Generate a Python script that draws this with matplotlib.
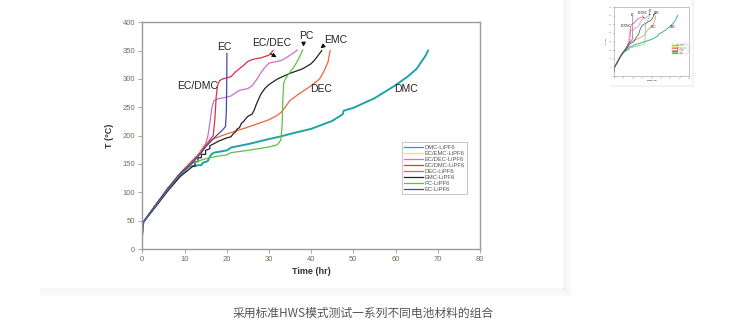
import matplotlib
matplotlib.use("Agg")
import matplotlib.pyplot as plt
from matplotlib.patches import Rectangle
from matplotlib.lines import Line2D

plt.rcParams['font.family'] = ['Liberation Sans', 'DejaVu Sans']

# 各电解液的温度-时间曲线 (HWS)
dmc_t = [0, 0.1, 0.3, 3, 6, 9, 11, 12.5, 13.5, 14, 14.3, 15.5, 16, 16.5, 17, 20, 20.5, 21, 25, 30, 33, 35, 40, 45, 47.5, 47.7, 50, 55, 60, 63, 65, 67, 67.7]
dmc_T = [25, 40, 48, 75, 105, 130, 145, 147, 148, 148, 152, 155, 163, 168, 170, 174, 176, 179, 185, 194, 199, 203, 212, 226, 238, 244, 249, 266, 289, 305, 318, 340, 350]

ecdec_t = [0, 0.1, 0.3, 3, 6, 9, 12, 14, 15, 15.5, 16, 16.5, 17, 18, 20, 21, 22, 23, 25, 26, 27, 28, 29, 30, 32, 33, 34, 35, 36, 36.7]
ecdec_T = [25, 40, 48, 76, 107, 134, 155, 172, 185, 198, 222, 250, 262, 265, 268, 270, 275, 280, 283, 288, 298, 310, 320, 328, 331, 333, 337, 342, 347, 351]

ecdmc_t = [0, 0.1, 0.3, 3, 6, 9, 12, 14, 15, 16, 16.8, 17.2, 17.5, 17.8, 18.3, 19, 20, 21, 22, 23, 24, 25, 26, 27, 28, 30, 31]
ecdmc_T = [25, 40, 48, 76, 107, 134, 157, 172, 182, 193, 200, 230, 268, 288, 297, 300, 302, 304, 312, 318, 324, 331, 334, 336, 337, 342, 350]

dec_t = [0, 0.1, 0.3, 3, 6, 9, 12, 14, 15, 16, 17, 20, 25, 30, 32, 33, 34, 35, 37, 40, 42, 43, 44, 44.5]
dec_T = [25, 40, 48, 75, 105, 132, 152, 175, 185, 190, 195, 203, 215, 228, 236, 242, 252, 262, 273, 288, 300, 313, 330, 350]

emc_t = [0, 0.1, 0.3, 3, 6, 9, 12, 12.5, 12.5, 13.2, 13.2, 14, 14, 15, 15, 16, 16, 17, 18, 19, 20, 21, 21.5, 22, 22.5, 23, 23.5, 24, 24.5, 25, 26, 26.5, 27, 28, 29, 30, 32, 35, 38, 40, 41, 42, 42.5]
emc_T = [25, 40, 48, 73, 102, 128, 146, 146, 154, 154, 161, 161, 167, 167, 174, 177, 182, 186, 190, 193, 196, 198, 203, 206, 212, 214, 222, 225, 230, 234, 238, 245, 255, 272, 283, 290, 300, 310, 318, 327, 335, 345, 350]

pc_t = [0, 0.1, 0.3, 3, 6, 9, 11, 12, 14, 16, 18, 20, 21, 25, 30, 32, 32.8, 33.1, 33.3, 33.5, 34, 35, 36, 37, 38]
pc_T = [25, 40, 48, 75, 105, 132, 147, 152, 157, 161, 164, 166, 170, 174, 180, 184, 192, 215, 265, 292, 302, 312, 322, 335, 351]

ec_t = [0, 0.1, 0.3, 3, 6, 9, 12, 14, 15, 16, 17, 18, 19, 19.7, 19.9, 20, 20.05]
ec_T = [25, 40, 48, 76, 106, 133, 153, 170, 180, 188, 196, 203, 210, 216, 240, 290, 345]

series = [
    ("DMC-LiPF6", dmc_t, dmc_T, "#1fa3a3", 1.4),
    ("EC/EMC-LiPF6", [], [], "#f2ea2a", 0.9),
    ("EC/DEC-LiPF6", ecdec_t, ecdec_T, "#cc6fd0", 0.9),
    ("EC/DMC-LiPF6", ecdmc_t, ecdmc_T, "#e0303a", 0.9),
    ("DEC-LiPF6", dec_t, dec_T, "#e8663a", 0.9),
    ("EMC-LiPF6", emc_t, emc_T, "#222222", 0.9),
    ("PC-LiPF6", pc_t, pc_T, "#5ec04a", 0.9),
    ("EC-LiPF6", ec_t, ec_T, "#4646b4", 0.9),
]

# 曲线旁的溶剂名称
labels = ["EC", "EC/DEC", "PC", "EMC", "EC/DMC", "DEC", "DMC"]
label_x = [19.4, 30.6, 38.9, 45.8, 13.2, 42.4, 62.5]
label_y = [356, 363, 376, 368, 288, 283, 282]

x_ticks = list(range(0, 81, 10))
y_ticks = list(range(0, 401, 50))

tick_color = "#7a6a58"
frame_color = "#9a9a9a"

fig = plt.figure(figsize=(7.5, 3.25), dpi=100)
fig.patch.set_facecolor("white")

# 卡片阴影
for i, a in enumerate([0.035, 0.03, 0.025, 0.02]):
    fig.patches.append(Rectangle((563 / 750 + i * 2 / 750, (325 - 288) / 325 - (i + 1) * 2 / 325),
                                 2.2 / 750, (288 - i * 2) / 325 + 0.2,
                                 transform=fig.transFigure, color="black", alpha=a, lw=0, zorder=-5))
    fig.patches.append(Rectangle((40 / 750, (325 - 290) / 325 - i * 2 / 325),
                                 (525 + i * 2) / 750, 2.2 / 325,
                                 transform=fig.transFigure, color="black", alpha=a, lw=0, zorder=-5))


def draw_chart(ax, small=False):
    k = 0.25 if small else 1.0
    for name, t, T, c, lw in series:
        ax.plot(t, T, color=c, lw=lw * (0.6 if small else 1.0), label=name)
    ax.set_xlim(0, 80)
    ax.set_ylim(0, 400)
    ax.set_xticks(x_ticks)
    ax.set_yticks(y_ticks)
    for s in ax.spines.values():
        s.set_color(frame_color)
        s.set_linewidth(0.8 * k + 0.2)
    ax.tick_params(colors=frame_color, labelcolor=tick_color, labelsize=5.5 * k,
                   length=3 * k, width=0.6, direction="out", pad=2 * k)
    ax.set_xlabel("Time (hr)", fontsize=6.5 * k, fontweight="bold", color="#333333", labelpad=3 * k)
    ax.set_ylabel("T (°C)", fontsize=6.5 * k, fontweight="bold", color="#333333", labelpad=6 * k)
    for s, x, y in zip(labels, label_x, label_y):
        ax.text(x, y, s, fontsize=7.5 * k, ha="center", va="center", color="#222222")
    ap = dict(arrowstyle="-|>", color="#111111", lw=0.7 * k + 0.1,
              mutation_scale=6 * k)
    ax.annotate("", xy=(32.4, 336), xytext=(29.8, 347), arrowprops=ap)
    ax.annotate("", xy=(38.2, 352), xytext=(38.2, 368), arrowprops=ap)
    ax.annotate("", xy=(41.7, 351), xytext=(43.5, 362), arrowprops=ap)
    handles = [Line2D([], [], color=c, lw=0.9 * (0.5 if small else 1.0)) for _, _, _, c, _ in series]
    leg = ax.legend(handles, [s[0] for s in series], loc="upper left",
                    bbox_to_anchor=(61.5 / 80, 188 / 400), fontsize=4.2 * k,
                    frameon=True, fancybox=False, handlelength=3.2, handletextpad=0.3,
                    labelspacing=0.15, borderpad=0.4, borderaxespad=0)
    leg.get_frame().set_edgecolor("#999999")
    leg.get_frame().set_linewidth(0.5 * (0.5 if small else 1.0))
    for txt in leg.get_texts():
        txt.set_color("#555555")


ax = fig.add_axes([142.3 / 750, (325 - 249) / 325, 337.7 / 750, 226.7 / 325])
draw_chart(ax)

# 右上角缩略图
fig.patches.append(Rectangle((610 / 750, (325 - 87) / 325), 84 / 750, 87 / 325,
                             transform=fig.transFigure, facecolor="#f3f3f3", lw=0, zorder=-3))
fig.patches.append(Rectangle((608 / 750, (325 - 85) / 325), 84 / 750, 85 / 325,
                             transform=fig.transFigure, facecolor="white", lw=0, zorder=-2))
ax2 = fig.add_axes([614 / 750, (325 - 76) / 325, 75 / 750, 69 / 325])
draw_chart(ax2, small=True)
for ln in ax2.get_lines():
    ln.set_alpha(0.75)

fig.text(363 / 750, (325 - 313) / 325, "采用标准HWS模式测试一系列不同电池材料的组合",
         ha="center", va="center", fontsize=8.5, color="#555555",
         family=["Noto Sans CJK SC", "DejaVu Sans"])

fig.savefig("out.png", dpi=100, facecolor="white")
